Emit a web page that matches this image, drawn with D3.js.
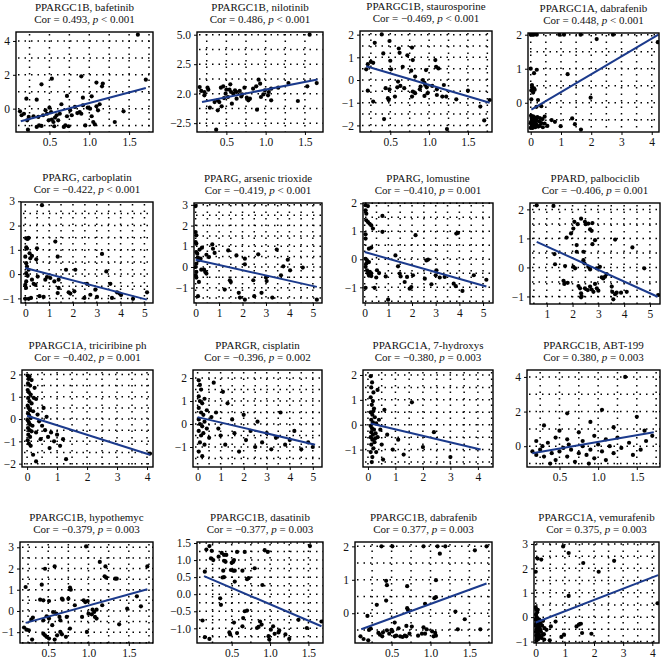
<!DOCTYPE html>
<html><head><meta charset="utf-8">
<script src="https://cdn.jsdelivr.net/npm/d3@7"></script>
<style>body{margin:0;background:#fff}svg{display:block}
svg text{font-family:"Liberation Serif","DejaVu Serif",serif;}</style>
</head><body>
<svg id="c" width="664" height="660"></svg>
<script>
// ---------- DATA ----------
const genes = ["PPARGC1B","PPARGC1B","PPARGC1B","PPARGC1A","PPARG","PPARG","PPARG","PPARD",
  "PPARGC1A","PPARGR","PPARGC1A","PPARGC1B","PPARGC1B","PPARGC1B","PPARGC1B","PPARGC1A"];
const drugs = ["bafetinib","nilotinib","staurosporine","dabrafenib","carboplatin","arsenic trioxide","lomustine","palbociclib",
  "triciribine ph","cisplatin","7-hydroxys","ABT-199","hypothemyc","dasatinib","dabrafenib","vemurafenib"];
const cors = ["0.493","0.486","\u22120.469","0.448","\u22120.422","\u22120.419","\u22120.410","\u22120.406",
  "\u22120.402","\u22120.396","\u22120.380","0.380","\u22120.379","\u22120.377","0.377","0.375"];
const pTexts = ["< 0.001","< 0.001","< 0.001","< 0.001","< 0.001","< 0.001","= 0.001","= 0.001",
  "= 0.001","= 0.002","= 0.003","= 0.003","= 0.003","= 0.003","= 0.003","= 0.003"];

const xDomains = [[0.08,1.8],[0.126,1.73],[0.11,1.81],[-0.09,4.24],[-0.18,5.36],[-0.07,5.39],[-0.07,5.42],[0.35,5.39],
  [-0.17,4.2],[-0.2,5.4],[-0.18,4.55],[0.08,1.8],[0.15,1.8],[0.048,1.69],[0.03,1.79],[-0.06,4.23]];
const yDomains = [[-1.38,4.53],[-3.25,5.23],[-2.29,2.16],[-0.86,2.05],[-1.19,2.97],[-1.74,3.09],[-1.56,2.01],[-1.26,2.22],
  [-2.15,2.2],[-1.87,2.35],[-1.7,2.2],[-1.2,4.4],[-1.51,3.25],[-1.43,1.53],[-0.89,2.13],[-1.06,3.08]];

const xTicks = [[0.5,1,1.5],[0.5,1,1.5],[0.5,1,1.5],[0,1,2,3,4],[0,1,2,3,4,5],[0,1,2,3,4,5],[0,1,2,3,4,5],[1,2,3,4,5],
  [0,1,2,3,4],[0,1,2,3,4,5],[0,1,2,3,4],[0.5,1,1.5],[0.5,1,1.5],[0.5,1,1.5],[0.5,1,1.5],[0,1,2,3,4]];
const xTickLabels = [["0.5","1.0","1.5"],["0.5","1.0","1.5"],["0.5","1.0","1.5"],["0","1","2","3","4"],["0","1","2","3","4","5"],
  ["0","1","2","3","4","5"],["0","1","2","3","4","5"],["1","2","3","4","5"],["0","1","2","3","4"],["0","1","2","3","4","5"],
  ["0","1","2","3","4"],["0.5","1.0","1.5"],["0.5","1.0","1.5"],["0.5","1.0","1.5"],["0.5","1.0","1.5"],["0","1","2","3","4"]];
const yTicks = [[0,2,4],[-2.5,0,2.5,5],[-2,-1,0,1,2],[0,1,2],[-1,0,1,2,3],[-1,0,1,2,3],[-1,0,1,2],[-1,0,1,2],
  [-2,-1,0,1,2],[-1,0,1,2],[-1,0,1,2],[0,2,4],[-1,0,1,2,3],[-1,-0.5,0,0.5,1,1.5],[0,1,2],[-1,0,1,2,3]];
const yTickLabels = [["0","2","4"],["\u22122.5","2.0","2.5","5.0"],["\u22122","\u22121","0","1","2"],["0","1","2"],
  ["\u22121","0","1","2","3"],["\u22121","0","1","2","3"],["\u22121","0","1","2"],["\u22121","0","1","2"],
  ["\u22122","\u22121","0","1","2"],["\u22121","0","1","2"],["\u22121","0","1","2"],["0","2","4"],
  ["\u22121","0","1","2","3"],["\u22121.0","\u22120.5","0.0","0.5","1.0","1.5"],["0","1","2"],["\u22121","0","1","2","3"]];
const xGridSteps = [0.25,0.25,0.25,0.5,0.5,0.5,0.5,0.5,0.5,0.5,0.5,0.25,0.25,0.25,0.25,0.5];
const yGridSteps = [1,1.25,0.5,0.5,0.5,0.5,0.5,0.5,0.5,0.5,0.5,1,0.5,0.25,0.5,0.5];

// regression line end points [x0,y0,x1,y1]
const fitLines = [[0.14,-0.75,1.71,1.22],[0.19,-0.71,1.66,1.21],[0.19,0.61,1.78,-1.0],[0.02,-0.2,4.22,2.0],
  [0,0.25,5.1,-1.05],[0,0.35,5.17,-0.96],[0,0.26,5.14,-0.97],[0.61,0.88,5.3,-1.01],
  [0,0.15,4.1,-1.6],[0,0.3,5.1,-0.9],[0.1,0.05,4.1,-1.0],[0.15,-0.4,1.72,0.8],
  [0.22,-0.56,1.73,1.02],[0.14,0.53,1.67,-0.94],[0.11,-0.48,1.72,0.89],[0,-0.22,4.2,1.72]];

const pts1 = [[1.61,4.37],[1.71,1.71],[0.90,1.91],[0.53,1.77],[0.40,1.44],[1.09,1.54],[1.16,1.32],[1.17,1.48],[0.21,0.59],[0.34,0.53],
 [0.92,0.65],[1.03,0.73],[0.72,0.75],[0.13,-0.16],[0.15,-0.39],[0.18,-0.30],[0.24,-0.49],[0.22,-0.69],[0.23,-1.24],[0.30,-0.45],
 [0.36,-0.49],[0.37,-0.99],[0.40,-1.02],[0.34,-1.08],[0.42,-0.39],[0.45,-0.10],[0.47,-0.30],[0.50,0.06],[0.52,-0.20],[0.49,-0.69],
 [0.53,-0.65],[0.55,-0.79],[0.57,-0.53],[0.59,-0.39],[0.61,-0.69],[0.63,-0.30],[0.56,-1.04],[0.65,0.26],[0.68,-1.08],[0.70,-0.99],
 [0.72,-0.45],[0.74,-1.04],[0.76,-0.10],[0.78,-0.39],[0.88,-0.20],[0.90,-0.30],[0.92,0.20],[0.95,-0.99],[0.98,0.06],[1.01,0.00],
 [1.03,-0.45],[1.05,-0.79],[1.07,-0.93],[1.09,0.14],[1.13,0.26],[1.11,-0.10],[1.32,-0.79],[1.43,-0.16],[0.82,0.10],[0.85,-0.26]];
const pts2 = [[1.56,5.0],[1.65,0.90],[1.53,0.62],[1.41,-0.62],[1.29,0.90],[1.16,0.51],[1.07,0.42],[1.04,0.14],[1.03,-0.14],[1.07,-0.56],
 [0.99,0.28],[0.97,-0.06],[0.94,-0.28],[0.91,1.19],[0.93,0.85],[0.88,0.62],[0.89,-1.36],[0.84,0.42],[0.80,-0.42],[0.76,-0.34],
 [0.73,0.51],[0.70,-0.06],[0.69,-0.23],[0.67,0.23],[0.63,0.14],[0.61,0.28],[0.59,0.00],[0.56,0.14],[0.54,0.34],[0.55,0.79],
 [0.57,-0.85],[0.52,-0.28],[0.50,0.34],[0.47,-0.37],[0.49,0.00],[0.46,0.62],[0.43,0.51],[0.41,-0.71],[0.44,-1.07],[0.39,-0.56],
 [0.35,-0.71],[0.39,-1.41],[0.37,-3.05],[0.29,-1.19],[0.26,0.51],[0.22,0.14],[0.22,-0.14],[0.18,0.23],[0.16,0.56],[0.27,0.34],
 [0.78,-0.56],[0.63,-0.42]];
const pts3 = [[0.39,2.01],[0.19,0.47],[0.21,0.70],[0.25,0.80],[0.28,0.76],[0.30,1.64],[0.41,1.17],[0.49,1.72],[0.50,0.85],[0.51,0.47],
 [0.44,-0.36],[0.49,-0.41],[0.47,-0.80],[0.48,-0.88],[0.42,-1.72],[0.21,-0.47],[0.28,-0.95],[0.56,-0.73],[0.61,1.39],[0.62,1.20],
 [0.60,-0.07],[0.63,-0.26],[0.59,-0.32],[0.66,0.58],[0.68,-0.36],[0.72,1.09],[0.78,1.43],[0.77,0.41],[0.79,0.88],[0.78,-0.73],
 [0.79,-0.51],[0.82,-0.58],[0.89,-0.29],[0.92,0.00],[0.94,-0.12],[0.95,-0.22],[0.97,-0.32],[0.98,-0.58],[0.96,0.44],[0.94,-0.70],
 [1.04,-0.26],[1.08,0.88],[1.09,0.58],[1.12,0.51],[1.10,-0.66],[1.17,-0.73],[1.19,-0.22],[1.22,-0.73],[1.23,-2.16],[1.35,-0.85],
 [1.50,-0.47],[1.66,-1.17],[1.71,-1.78],[1.78,-0.88],[1.10,-0.41],[0.82,0.15],[0.88,-0.41]];
const pts4 = [[0,2],[0.05,2],[0.1,2],[0.2,2],[0.95,2],[1.1,2],[1.65,2],[2.72,2],[2.18,1.87],[4.2,1.78],
 [0,1.0],[0.11,0.87],[0.2,0.97],[1.22,0.84],[1.98,0.15],[0.04,0.52],[0.05,0.45],[0.11,0.42],[0.02,0.36],[0.08,0.30],
 [0.13,0.38],[0.02,0.10],[0.24,0.08],[0.35,-0.10],[0.19,-0.12],[0.46,-0.41],[0.69,-0.51],[0.80,-0.56],[0.99,-0.69],[1.37,-0.46],
 [1.46,-0.63],[1.66,-0.79],[0.46,-0.61],[0.01,-0.38],[0.03,-0.45],[0.06,-0.50],[0.02,-0.55],[0.08,-0.58],[0.12,-0.62],[0.04,-0.66],
 [0.1,-0.70],[0.15,-0.72],[0.0,-0.74],[0.06,-0.74],[0.2,-0.66],[0.25,-0.7],[0.3,-0.68],[0.18,-0.52],[0.28,-0.55],[0.35,-0.6],
 [0.4,-0.72],[0.14,-0.44],[0.22,-0.42],[0.08,-0.40],[0.3,-0.45],[0.05,-0.62],[0.12,-0.5],[0.55,-0.68],[0.38,-0.48],[0.0,-0.6],[0.17,-0.6]];
const pts5 = [[0.70,2.84],[0.04,1.47],[0.1,1.45],[0.14,1.49],[0.04,1.1],[0.07,1.05],[0.49,1.06],[0.18,0.86],[0.28,0.75],[0.21,0.65],
 [0.46,0.61],[0,0.72],[0.04,0.45],[0.07,0.31],[0.14,0.18],[0.04,0.04],[0.1,-0.07],[0.04,-0.3],[0,-0.44],[0.03,-0.57],
 [0.28,-0.23],[0.35,-0.40],[0.42,-0.44],[0.52,-0.10],[0.60,-0.91],[0.14,-1.02],[0.24,-0.98],[0,-1.02],[1.26,1.34],[1.36,0.72],
 [1.71,0.18],[2.10,0.18],[0.91,-0.12],[0.84,-0.23],[1.22,-0.30],[1.40,-0.23],[1.40,-0.57],[1.36,-0.78],[1.82,-0.75],[1.89,-0.80],
 [2.06,-0.71],[2.48,-0.98],[2.59,-0.40],[2.73,-0.85],[2.94,-0.64],[3.01,-0.94],[3.22,0.83],[3.40,0.11],[3.57,-0.40],[3.64,-0.98],
 [3.85,-0.75],[3.96,-0.80],[4.02,-0.86],[4.52,-1.02],[5.11,-0.75],[0.77,-0.94],[1.05,-0.16]];
const pts6 = [[0,2.94],[0,1.69],[0.03,1.53],[0,1.2],[0.03,1.13],[0.03,0.72],[0.07,0.64],[0.17,0.84],[0.27,0.93],[0.1,0.45],
 [0.21,0.40],[0.13,0.32],[0.03,0.16],[0,0],[0.03,-0.24],[0,-0.4],[0.03,-0.51],[0.24,-0.13],[0.36,-0.13],[0.41,-0.24],
 [0.46,-0.32],[0.14,-0.72],[0.1,-1.41],[0.46,0.59],[0.57,0.48],[0.71,1.09],[0.74,0.88],[0.81,0.68],[1.39,0.8],[1.46,-0.64],
 [1.5,-0.72],[1.74,0.56],[1.24,-1.09],[1.84,-1.25],[1.89,-1.48],[2.1,-1.58],[2.1,0.40],[2.1,0.13],[2.46,-0.64],[2.5,-1.41],
 [2.67,0.61],[2.81,-1.25],[3.0,-0.51],[3.03,-0.68],[3.27,-1.48],[3.46,0.84],[3.64,-0.40],[3.74,0.03],[3.93,0.35],[4.03,-0.16],
 [4.57,-0.03],[5.17,-1.58]];
const pts7 = [[0.04,1.93],[0.14,1.9],[0.04,1.75],[0.07,1.63],[0.07,1.39],[0.14,1.33],[0.21,1.27],[0.28,1.21],[0.35,1.1],[0.04,0.89],
 [0.04,0.74],[0.75,1.55],[0.75,0.98],[0.28,0.42],[0.18,0.38],[0.04,0.02],[0.1,-0.04],[0.07,-0.15],[0.18,-0.1],[0.04,-0.27],
 [0.1,-0.39],[0.18,-0.47],[0.22,-0.45],[0.28,-0.5],[0.18,-0.58],[0.28,-0.6],[0.14,-0.5],[0.52,-0.39],[0.61,-0.49],[0.49,-0.65],
 [0.04,-1.02],[0.42,-1.02],[0.89,-0.61],[0.99,-1.44],[1.30,0.14],[1.41,-0.25],[1.48,-0.51],[1.52,-0.61],[1.69,-0.81],[1.79,-0.63],
 [1.90,-1.05],[1.97,-0.99],[2.15,0.86],[2.04,-0.57],[2.54,-0.69],[2.61,-0.04],[2.68,-0.01],[2.82,-0.89],[3.0,-0.57],[3.03,-0.39],
 [3.17,-0.65],[3.38,-0.63],[3.87,0.92],[3.94,0.94],[3.76,-0.87],[3.85,-0.96],[4.13,-1.13],[4.61,-0.57],[5.14,-0.73]];
const pts8 = [[0.61,2.14],[1.26,2.12],[1.30,0.46],[1.32,0.11],[1.71,0.05],[1.77,1.03],[1.94,1.17],[2.03,1.34],[2.07,1.57],[2.2,1.49],
 [2.33,1.68],[2.48,1.57],[2.61,1.51],[2.77,1.53],[2.68,1.31],[2.74,1.26],[2.51,1.49],[2.16,0.77],[2.16,0.54],[2.42,0.54],
 [2.10,-0.03],[2.03,0.02],[2.87,0.94],[2.77,0.80],[2.42,0.25],[2.46,0.14],[2.61,0.02],[2.68,-0.07],[2.94,-0.03],[3.06,0.02],
 [3.13,-0.34],[3.19,-0.38],[3.26,-0.32],[3.32,-0.23],[1.65,-0.46],[1.68,-0.57],[1.81,-0.53],[2.23,-0.64],[2.29,-0.72],[2.33,-0.89],
 [2.35,-0.99],[2.33,-1.03],[2.48,-0.72],[2.59,-0.78],[2.68,-0.66],[2.74,-0.76],[2.81,-0.84],[2.87,-0.57],[2.94,-0.72],[3.0,-0.80],
 [3.52,-0.66],[3.54,-0.84],[3.65,-0.92],[3.71,-0.87],[3.58,-1.10],[3.88,-0.87],[4.10,-0.84],[3.65,0.96],[4.32,0.69],[4.78,-0.03],[5.32,-0.95]];
const pts9 = [[0.02,1.95],[0.05,1.8],[0.08,1.9],[0.03,1.6],[0.1,1.5],[0.02,1.3],[0.06,1.2],[0.12,1.1],[0.04,0.95],[0.08,0.8],
 [0.15,0.7],[0.02,0.6],[0.05,0.5],[0.1,0.4],[0.2,0.35],[0.03,0.25],[0.07,0.15],[0.12,0.05],[0.02,-0.05],[0.06,-0.15],
 [0.1,-0.25],[0.18,-0.3],[0.03,-0.4],[0.08,-0.5],[0.15,-0.55],[0.04,-0.7],[0.1,-0.8],[0.02,-0.95],[0.06,-1.1],[0.12,-1.2],
 [0.25,1.4],[0.3,0.9],[0.35,0.2],[0.4,-0.1],[0.3,-0.6],[0.45,-0.9],[0.5,-0.3],[0.6,-0.5],[0.7,-0.8],[0.8,-0.6],
 [0.9,-1.0],[1.0,-0.7],[1.1,-1.2],[1.2,-0.9],[0.55,0.5],[0.65,0.1],[0.2,-1.6],[0.3,-1.9],[1.3,-1.8],[4.1,-1.55],
 [0.75,-1.3],[0.15,1.75],[0.22,0.95]];
const pts10 = [[0.05,1.9],[0.1,1.7],[0.15,1.5],[0.05,1.2],[0.1,1.0],[0.2,0.9],[0.3,1.1],[0.05,0.7],[0.15,0.5],[0.25,0.4],
 [0.4,0.6],[0.05,0.2],[0.1,0.0],[0.2,-0.1],[0.3,0.1],[0.05,-0.3],[0.15,-0.5],[0.25,-0.4],[0.4,-0.2],[0.1,-0.8],
 [0.3,-0.9],[0.05,-1.2],[0.2,-1.4],[0.5,-0.6],[0.6,0.3],[0.8,0.5],[0.9,-0.2],[1.0,-0.5],[1.1,1.4],[1.2,-0.9],
 [1.5,0.2],[1.6,-0.4],[1.8,-1.2],[2.0,0.4],[2.1,-0.7],[2.3,-0.3],[2.5,-1.0],[2.6,0.1],[2.8,-0.8],[3.0,-0.4],
 [3.2,-1.1],[3.4,-0.6],[3.6,0.5],[3.8,-0.9],[4.0,-0.7],[4.2,-0.3],[4.5,-1.1],[4.8,-0.8],[5.0,-1.0],[0.7,1.8],[1.3,0.9]];
const pts11 = [[0.1,1.95],[0.15,1.7],[0.12,1.5],[0.2,1.3],[0.1,1.1],[0.18,0.95],[0.14,0.8],[0.22,0.65],[0.1,0.5],[0.16,0.4],
 [0.25,0.3],[0.12,0.2],[0.18,0.1],[0.3,0.05],[0.1,-0.05],[0.15,-0.15],[0.22,-0.2],[0.12,-0.3],[0.18,-0.4],[0.28,-0.35],
 [0.1,-0.5],[0.16,-0.6],[0.24,-0.7],[0.12,-0.8],[0.2,-0.95],[0.1,-1.1],[0.16,-1.3],[0.14,-1.5],[0.35,-0.5],[0.4,0.2],
 [0.45,-0.2],[0.5,-0.8],[0.6,0.6],[0.7,-0.4],[0.9,-1.0],[1.1,-0.6],[1.3,-1.2],[1.6,0.9],[2.0,-0.9],[2.4,-0.3],
 [0.35,1.4],[0.3,-1.1],[0.55,-1.4],[3.0,-1.3],[0.2,0.55],[0.26,-0.55]];
const pts12 = [[1.35,4.0],[1.05,2.1],[0.6,1.9],[1.5,1.7],[0.9,1.4],[0.3,1.2],[1.2,1.1],[0.5,0.9],[0.75,0.8],[1.6,0.9],
 [0.2,0.3],[0.35,0.2],[0.45,0.5],[0.6,0.4],[0.8,0.3],[0.95,0.6],[1.1,0.4],[1.25,0.5],[1.4,0.2],[1.7,0.6],
 [0.15,-0.3],[0.2,-0.5],[0.25,-0.2],[0.3,-0.6],[0.4,-0.4],[0.45,-0.8],[0.5,-0.3],[0.55,-0.1],[0.6,-0.6],[0.65,-0.2],
 [0.7,-0.9],[0.75,-0.4],[0.8,0.0],[0.85,-0.5],[0.9,-0.2],[0.95,-0.7],[1.0,0.1],[1.05,-0.3],[1.1,-0.8],[1.15,0.0],
 [1.2,-0.4],[1.3,-0.1],[1.45,-0.5],[1.55,-0.2],[0.38,-1.0],[0.62,0.1],[0.88,-1.0],[0.28,0.0],[1.62,0.3]];
const pts13 = [[0.97,3.04],[1.73,2.10],[1.14,2.31],[1.21,2.10],[0.58,2.10],[0.46,1.99],[1.20,1.63],[1.22,1.57],[1.33,1.52],[1.35,1.52],
 [0.22,1.13],[0.42,1.24],[0.77,1.10],[0.78,1.0],[0.40,0.53],[0.44,0.5],[0.51,0.47],[0.67,0.58],[0.75,0.58],[0.68,0.53],
 [0.94,0.5],[0.96,0.42],[0.99,0.47],[0.83,0.27],[1.17,0.27],[1.60,0.69],[1.65,0.22],[1.48,0.11],[0.31,-0.31],[0.29,-0.41],
 [0.48,-0.25],[0.51,-0.36],[0.56,-0.05],[0.60,-0.13],[0.64,-0.28],[0.65,-0.44],[0.73,-0.28],[0.92,-0.28],[1.0,-0.13],[1.04,-0.16],
 [1.07,-0.05],[1.08,-0.28],[1.10,-0.36],[1.05,0.06],[1.10,0.06],[0.44,-0.44],[0.20,-0.78],[0.23,-0.88],[0.26,-0.91],[0.30,-1.35],
 [0.44,-1.07],[0.46,-1.15],[0.48,-1.22],[0.51,-1.30],[0.58,-1.35],[0.61,-1.15],[0.65,-0.99],[0.67,-1.10],[0.72,-1.22],[0.77,-0.83],
 [0.98,-0.99],[1.38,-0.63],[0.55,-0.67]];
const pts14 = [[0.17,1.31],[0.21,1.41],[0.24,1.27],[0.23,1.05],[0.26,1.0],[0.33,1.10],[0.37,1.21],[0.40,1.15],[0.43,1.15],[0.40,0.98],
 [0.42,0.95],[0.5,0.92],[0.52,0.95],[0.53,1.0],[0.57,1.24],[0.67,1.24],[0.93,1.29],[0.97,1.24],[1.52,1.41],[0.15,0.66],
 [0.39,0.69],[0.40,0.50],[0.38,0.49],[0.49,0.71],[0.52,0.69],[0.54,0.69],[0.64,0.69],[0.54,0.37],[0.72,0.47],[0.70,0.44],
 [0.90,0.27],[0.80,0.76],[0.35,-0.12],[0.36,-0.31],[0.67,-0.50],[0.70,-0.48],[0.65,-0.70],[0.64,-0.94],[0.83,-0.99],[0.85,-0.96],
 [0.89,-0.89],[0.87,-0.80],[0.12,-0.77],[0.15,-1.26],[0.21,-1.31],[0.47,-1.12],[0.48,-1.18],[0.57,-1.14],[0.53,-0.83],[0.98,-1.23],
 [0.99,-1.33],[1.01,-1.04],[1.04,-0.94],[1.06,-1.16],[1.11,-1.12],[1.12,-1.06],[1.20,-1.18],[1.25,-1.31],[1.37,-0.75],[1.48,-0.99],[1.67,-0.80]];
const pts15 = [[0.37,2],[0.51,2],[0.91,2],[1.09,2],[1.19,2],[1.72,2],[1.12,1.78],[1.57,1.88],[0.43,0.97],[0.44,0.84],
 [0.70,0.81],[1.07,0.99],[0.43,0.38],[0.31,0.25],[0.19,-0.08],[0.70,0.15],[0.71,0.10],[0.93,0.28],[1.05,0.45],[1.07,0.48],
 [1.32,0.05],[1.44,-0.18],[1.35,-0.48],[1.64,-0.48],[0.54,-0.28],[0.69,-0.38],[0.10,-0.69],[0.14,-0.77],[0.20,-0.81],[0.21,-0.5],
 [0.23,-0.45],[0.33,-0.59],[0.35,-0.64],[0.38,-0.69],[0.39,-0.57],[0.44,-0.51],[0.47,-0.61],[0.50,-0.50],[0.51,-0.54],[0.54,-0.69],
 [0.56,-0.67],[0.59,-0.45],[0.61,-0.69],[0.64,-0.71],[0.67,-0.67],[0.69,-0.69],[0.73,-0.61],[0.76,-0.40],[0.84,-0.67],[0.89,-0.61],
 [0.93,-0.61],[0.91,-0.42],[0.95,-0.48],[1.02,-0.54],[1.04,-0.69],[1.06,-0.59],[1.07,-0.67]];
const pts16 = [[0.94,2.90],[1.13,2.63],[1.63,2.22],[2.69,2.31],[0.06,2.40],[0.19,2.36],[0,1.86],[2.16,1.86],[1.13,0.87],[4.18,0.57],
 [0.68,-0.18],[0.52,-0.38],[0.37,-0.52],[0.25,-0.72],[0.88,-0.81],[0.97,-0.72],[1.40,-0.38],[1.48,-0.31],[1.55,-0.27],[1.59,-0.65],
 [1.91,-0.68],[0.48,-0.95],[0.29,-0.92],[0,0.4],[0.02,0.3],[0.05,0.2],[0.01,0.1],[0.03,0.0],[0.06,-0.05],[0,-0.1],
 [0.04,-0.15],[0.08,-0.2],[0.02,-0.25],[0.1,-0.3],[0,-0.35],[0.05,-0.4],[0.12,-0.42],[0.03,-0.5],[0.08,-0.55],[0.15,-0.5],
 [0.01,-0.6],[0.06,-0.65],[0.1,-0.7],[0.02,-0.75],[0.14,-0.78],[0.04,-0.85],[0.09,-0.9],[0.2,-0.85],[0.03,-0.95],[0.18,-0.6],
 [0.22,-0.35],[0.25,-0.15],[0.3,-0.45],[0.12,-0.1],[0.16,-0.25],[0.07,0.3],[0.28,-0.7]];
const allPoints = [pts1,pts2,pts3,pts4,pts5,pts6,pts7,pts8,pts9,pts10,pts11,pts12,pts13,pts14,pts15,pts16];

// ---------- LAYOUT ----------
const boxes = [[16,32,153,132],[197,32,323,132],[360,31,492,132],[528,33,659,132],
  [21,202,153,303],[194,203,322,303],[363,203,493,303],[530,203,660,304],
  [22,370,153,467],[193,370,322,467],[363,370,493,467],[527,370,660,467],
  [20,542,153,643],[197,542,323,643],[355,542,492,643],[534,542,659,643]];

const svg = d3.select("#c");
svg.append("rect").attr("width",664).attr("height",660).attr("fill","#fff");

function gridVals(dom, step){
  const out=[]; const s=Math.ceil(dom[0]/step-1e-9);
  for(let k=s; k*step<=dom[1]+1e-9; k++) out.push(+(k*step).toFixed(6));
  return out;
}

allPoints.forEach((pts,i)=>{
  const [l,t,r,b] = boxes[i];
  const x = d3.scaleLinear().domain(xDomains[i]).range([l,r]);
  const y = d3.scaleLinear().domain(yDomains[i]).range([b,t]);
  const g = svg.append("g");
  const clipId = "clip"+i;
  g.append("clipPath").attr("id",clipId).append("rect").attr("x",l).attr("y",t).attr("width",r-l).attr("height",b-t);

  // dotted grid
  const grid = g.append("g").attr("stroke","#000").attr("stroke-width",1.5).attr("stroke-dasharray","1.5,5");
  gridVals(xDomains[i], xGridSteps[i]).forEach(v=>{
    grid.append("line").attr("x1",x(v)).attr("x2",x(v)).attr("y1",t+2).attr("y2",b);
  });
  gridVals(yDomains[i], yGridSteps[i]).forEach(v=>{
    grid.append("line").attr("y1",y(v)).attr("y2",y(v)).attr("x1",l+2).attr("x2",r);
  });

  // points
  g.append("g").attr("clip-path",`url(#${clipId})`).selectAll("circle").data(pts).join("circle")
    .attr("cx",d=>x(d[0])).attr("cy",d=>y(d[1])).attr("r",2.1).attr("fill","#000");

  // regression line
  const f = fitLines[i];
  g.append("line").attr("x1",x(f[0])).attr("y1",y(f[1])).attr("x2",x(f[2])).attr("y2",y(f[3]))
    .attr("stroke","#1b3a8c").attr("stroke-width",2);

  // frame
  g.append("rect").attr("x",l).attr("y",t).attr("width",r-l).attr("height",b-t)
    .attr("fill","none").attr("stroke","#000").attr("stroke-width",1.4);

  // axes
  const xa = d3.axisBottom(x).tickValues(xTicks[i]).tickFormat((d,k)=>xTickLabels[i][k]).tickSize(3).tickPadding(3);
  const ya = d3.axisLeft(y).tickValues(yTicks[i]).tickFormat((d,k)=>yTickLabels[i][k]).tickSize(3).tickPadding(3);
  const gx = g.append("g").attr("transform",`translate(0,${b})`).call(xa);
  const gy = g.append("g").attr("transform",`translate(${l},0)`).call(ya);
  [gx,gy].forEach(ax=>{
    ax.attr("font-family",null).attr("font-size",null);
    ax.select(".domain").remove();
    ax.selectAll("line").attr("stroke","#000").attr("stroke-width",1);
    ax.selectAll("text").style("font-family",'"Liberation Serif","DejaVu Serif",serif').style("font-size","11.5px").attr("fill","#111");
  });

  // titles
  const cx = (l+r)/2;
  g.append("text").attr("x",cx).attr("y",t-21).attr("text-anchor","middle")
    .style("font-family",'"Liberation Serif","DejaVu Serif",serif').style("font-size","11px").attr("fill","#111")
    .text(genes[i]+", "+drugs[i]);
  const t2 = g.append("text").attr("x",cx).attr("y",t-9).attr("text-anchor","middle")
    .style("font-family",'"Liberation Serif","DejaVu Serif",serif').style("font-size","11px").attr("fill","#111");
  t2.append("tspan").text("Cor = "+cors[i]+", ");
  t2.append("tspan").attr("font-style","italic").text("p");
  t2.append("tspan").text(" "+pTexts[i]);
});
</script>
</body></html>
